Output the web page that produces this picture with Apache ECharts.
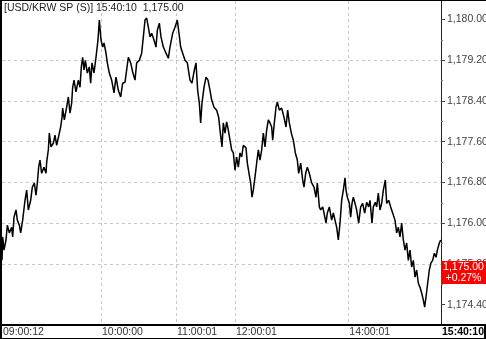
<!DOCTYPE html>
<html>
<head>
<meta charset="utf-8">
<script src="https://cdn.jsdelivr.net/npm/echarts@6/dist/echarts.min.js"></script>
<style>
html,body{margin:0;padding:0;background:#fff;}
#chart{width:486px;height:339px;}
</style>
</head>
<body>
<div id="chart"></div>
<script>
// ---- data ----
var symbolName = '[USD/KRW SP (S)]';
var lastTime = '15:40:10';
var lastPrice = 1175.00;
var changePct = '+0.27%';

// tick sequence position (x) and price (y)
var tickSeq = [6,8,12,18,22,28,35,38,42,48,52,58,62,68,75,80,85,92,97,103,108,112,116,120,125,132,138,140,145,148,153,160,165,170,178,182,186,188,193,200,205,210,215,218,222,228,235,240,244,248,252,256,262,268,272,276,282,288,294,298,303,308,312,318,322,328,335,342,348,355,362,368,375,380,385,392,398,405,410,418,425,430,435,440,445,450,455,462,468,472,478,483,490,498,505,510,518,525,532,537,542,548,555,562,570,576,583,588,593,598,602,606,612,618,624,630,635,642,650,656,660,666,670,675,680,685,690,695,700,705,710,715,720,725,730,738,742,747,752,756,760,765,770,775,780,785,790,795,800,805,810,815,818,823,828,832,838,845,852,858,863,868,874,880,886,892,896,902,908,912,917,922,928,935,942,948,952,958,962,968,972,978,982,988,995,1000,1005,1010,1015,1020,1025,1030,1035,1038,1042,1048,1052,1056,1060,1065,1070,1076,1082,1088,1094,1100,1106,1110,1116,1120,1126,1130,1135,1140,1145,1150,1156,1160,1166,1172,1178,1185,1190,1195,1200,1205,1210,1215,1220,1225,1230,1235,1240,1245,1250,1255,1260,1265,1270,1274,1278,1283,1288,1293,1298,1303,1308,1312,1318,1322];
var prices = [1175.27,1175.73,1175.47,1175.67,1175.96,1175.81,1175.92,1175.73,1176.12,1176.26,1176.06,1175.96,1175.81,1176.06,1176.45,1176.65,1176.26,1176.45,1176.71,1176.79,1176.55,1176.79,1177.10,1177.24,1176.98,1177.10,1176.98,1177.20,1177.44,1177.77,1177.50,1177.57,1177.73,1177.53,1177.77,1177.89,1178.08,1178.26,1178.03,1178.28,1178.48,1178.16,1178.36,1178.67,1178.81,1178.58,1178.81,1178.67,1179.07,1179.26,1179.01,1179.20,1178.95,1179.07,1178.75,1179.15,1178.95,1179.26,1179.60,1179.99,1179.60,1179.46,1179.54,1179.34,1179.15,1178.95,1178.81,1178.56,1178.87,1178.61,1178.48,1178.75,1178.77,1179.01,1179.26,1179.15,1178.97,1178.81,1179.15,1179.20,1179.34,1179.66,1179.99,1180.03,1179.85,1179.66,1179.73,1179.60,1179.46,1179.79,1179.93,1179.66,1179.46,1179.34,1179.24,1179.46,1179.73,1179.85,1179.99,1179.73,1179.46,1179.34,1179.20,1179.15,1178.81,1178.75,1179.01,1179.15,1178.61,1178.36,1177.97,1178.36,1178.67,1178.87,1178.81,1178.61,1178.42,1178.28,1178.22,1178.08,1177.83,1177.50,1177.97,1177.77,1177.99,1177.83,1177.63,1177.44,1177.38,1177.04,1177.30,1177.10,1177.38,1177.30,1177.53,1177.48,1177.18,1176.98,1176.79,1176.51,1176.65,1176.91,1177.18,1177.44,1177.24,1177.44,1177.77,1177.50,1177.83,1178.03,1177.97,1177.89,1177.63,1177.97,1178.28,1178.38,1178.22,1178.26,1178.08,1177.89,1178.22,1177.97,1177.77,1177.63,1177.38,1177.24,1176.98,1177.18,1176.85,1176.71,1176.98,1177.10,1176.98,1176.79,1176.71,1176.51,1176.79,1176.32,1176.26,1176.32,1176.20,1176.00,1176.20,1176.32,1176.06,1176.20,1176.06,1175.92,1175.67,1176.00,1176.45,1176.65,1176.89,1176.65,1176.51,1176.39,1176.12,1176.39,1176.51,1176.39,1176.26,1176.00,1176.32,1176.39,1176.20,1176.41,1176.32,1176.45,1176.00,1176.32,1176.41,1176.32,1176.59,1176.26,1176.39,1176.65,1176.85,1176.39,1176.45,1176.32,1176.20,1176.06,1175.81,1175.92,1175.73,1176.00,1175.67,1175.47,1175.61,1175.27,1175.47,1175.14,1175.27,1174.94,1175.08,1174.82,1174.74,1174.63,1174.49,1174.35,1174.55,1174.82,1175.08,1175.22,1175.27,1175.41,1175.33,1175.47,1175.61,1175.67];

// axis ticks / labels
var xTickSeq = [6, 303, 528, 705, 1045, 1323];
var xTickLabels = ['09:00:12', '10:00:00', '11:00:01', '12:00:01', '14:00:01', '15:40:10'];
var yMajorTicks = [1174.4, 1175.2, 1176.0, 1176.8, 1177.6, 1178.4, 1179.2, 1180.0];
var yMinorTicks = [1174.0, 1174.8, 1175.6, 1176.4, 1177.2, 1178.0, 1178.8, 1179.6];
var yMin = 1174.0, yMax = 1180.365;
var xMin = 6, xMax = 1323;

// ---- build ----
var seriesData = tickSeq.map(function (s, i) { return [s, prices[i]]; });
function fmtNum(v) {
  var s = v.toFixed(2);
  var parts = s.split('.');
  parts[0] = parts[0].replace(/\B(?=(\d{3})+(?!\d))/g, ',');
  return parts.join('.');
}
var FONT = 'Liberation Sans, Arial, sans-serif';

var chart = echarts.init(document.getElementById('chart'), null, {renderer: 'canvas'});
chart.setOption({
  backgroundColor: '#ffffff',
  animation: false,
  title: {
    text: symbolName + ' ' + lastTime + '  ' + fmtNum(lastPrice),
    left: 2, top: 2, padding: [1, 2],
    textStyle: {fontSize: 10.5, fontWeight: 'normal', color: '#222', fontFamily: FONT}
  },
  grid: {left: 2, right: 45, top: 1, bottom: 14, containLabel: false, outerBoundsMode: 'none'},
  xAxis: {
    type: 'value', min: xMin, max: xMax,
    axisLine: {show: false},
    axisTick: {show: false, customValues: xTickSeq},
    axisLabel: {
      customValues: xTickSeq,
      margin: 2, align: 'left', verticalAlign: 'top',
      fontSize: 10.5, fontFamily: FONT, color: '#333',
      padding: [0, 0, 0, 1],
      hideOverlap: false,
      formatter: function (v) {
        var i = xTickSeq.indexOf(v);
        var t = i >= 0 ? xTickLabels[i] : '';
        return i === xTickSeq.length - 1 ? '{b|' + t + '}' : t;
      },
      rich: {b: {fontWeight: 'bold', color: '#000', fontSize: 10.5, fontFamily: FONT}}
    },
    splitLine: {show: true, showMinLine: false, showMaxLine: false,
      lineStyle: {color: '#c8c8c8', type: [3, 3], width: 1}}
  },
  yAxis: [{
    type: 'value', position: 'right', min: yMin, max: yMax, scale: true,
    axisLine: {show: true, lineStyle: {color: '#222', width: 1}},
    axisTick: {show: true, length: 4, customValues: yMajorTicks, lineStyle: {color: '#444'}},
    axisLabel: {
      customValues: yMajorTicks, margin: 6,
      fontSize: 10.5, fontFamily: FONT, color: '#444',
      formatter: function (v) { return fmtNum(v); }
    },
    splitLine: {show: true, showMinLine: false, showMaxLine: false,
      lineStyle: {color: '#c8c8c8', type: [3, 3], width: 1}}
  }, {
    type: 'value', position: 'right', min: yMin, max: yMax, scale: true,
    axisLine: {show: false},
    axisTick: {show: true, length: 2, customValues: yMinorTicks, lineStyle: {color: '#777'}},
    axisLabel: {show: false},
    splitLine: {show: false}
  }],
  series: [{
    type: 'line',
    data: seriesData,
    yAxisIndex: 0,
    showSymbol: false, symbol: 'none',
    lineStyle: {color: '#000', width: 1.5},
    clip: true,
    z: 3,
    markLine: {
      silent: true, symbol: 'none',
      lineStyle: {color: 'rgba(0,0,0,0)', width: 0},
      label: {
        show: true, position: 'end', distance: 0,
        width: 45, padding: 0, offset: [0, -1.5],
        backgroundColor: '#ff0000',
        formatter: '{a|' + fmtNum(lastPrice) + '}\n{a|' + changePct + '}',
        rich: {a: {color: '#fff', fontSize: 10.5, fontFamily: FONT, lineHeight: 11.5, align: 'center'}}
      },
      data: [{yAxis: lastPrice}]
    }
  }],
  graphic: [
    {type: 'rect', z: 100, shape: {x: 0, y: 0, width: 2, height: 339}, style: {fill: '#000'}},
    {type: 'rect', z: 100, shape: {x: 0, y: 0, width: 486, height: 1}, style: {fill: '#000'}},
    {type: 'rect', z: 100, shape: {x: 0, y: 338, width: 486, height: 1}, style: {fill: '#000'}},
    {type: 'rect', z: 100, shape: {x: 0, y: 324, width: 486, height: 2}, style: {fill: '#000'}},
    {type: 'rect', z: 100, shape: {x: 484, y: 325, width: 2, height: 14}, style: {fill: '#000'}}
  ]
});
</script>
</body>
</html>
